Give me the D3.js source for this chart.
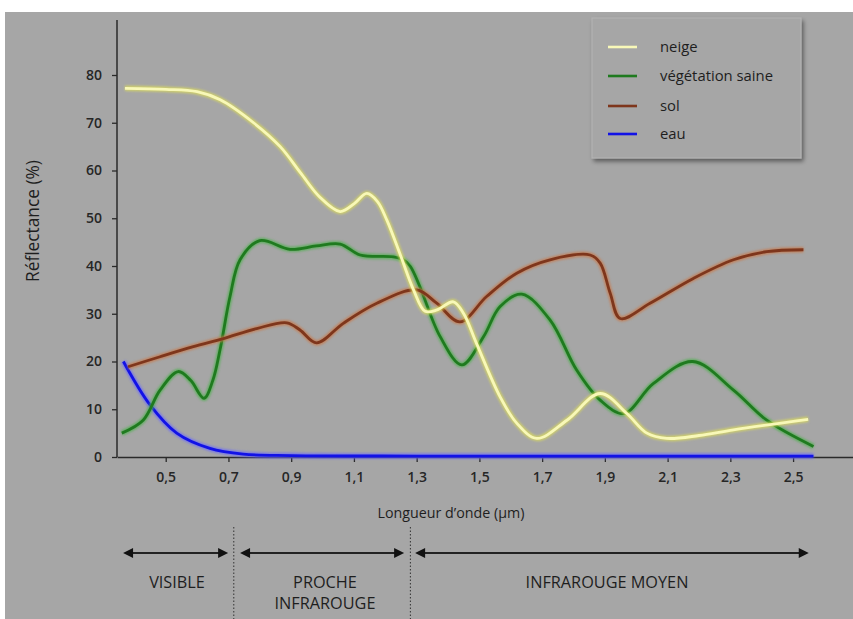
<!DOCTYPE html>
<html><head><meta charset="utf-8">
<script src="https://cdn.jsdelivr.net/npm/d3@7"></script>
<style>
html,body{margin:0;padding:0;background:#fff;}
svg{display:block;}
text{font-family:"Open Sans","Noto Sans",sans-serif;}
</style></head>
<body>
<svg id="chart" width="853" height="619"></svg>
<script>
// ---- data ----
const xTicks = [0.5,0.7,0.9,1.1,1.3,1.5,1.7,1.9,2.1,2.3,2.5];
const yTicks = [0,10,20,30,40,50,60,70,80];

const neigeX = [0.37,0.5,0.6,0.674,0.78,0.865,0.93,0.99,1.056,1.1,1.141,1.175,1.205,1.247,1.29,1.327,1.365,1.417,1.45,1.49,1.566,1.619,1.683,1.779,1.885,1.97,2.034,2.097,2.2,2.31,2.548];
const neigeY = [77.2,77.0,76.5,74.8,70,65,59.5,54.5,51.4,53,55.2,53.5,49.6,42.5,35,30.5,30.8,32.5,30,23.9,12.6,7.1,3.9,7.7,13.3,9.1,5,3.9,4.5,5.7,7.9];

const vegX = [0.36,0.428,0.482,0.54,0.58,0.622,0.65,0.673,0.705,0.737,0.8,0.896,0.98,1.056,1.12,1.226,1.257,1.28,1.31,1.375,1.444,1.513,1.566,1.635,1.725,1.81,1.885,1.96,2.055,2.18,2.31,2.416,2.565];
const vegY = [5,7.7,14,17.9,16,12.3,16,22.4,33.6,41.3,45.3,43.5,44.2,44.6,42.3,41.9,41.3,39.9,35.7,25.2,19.3,25.2,31.5,34.1,28.7,18.2,11.9,9.1,15.4,20,14,7.7,2.2];

const solX = [0.38,0.482,0.588,0.684,0.79,0.886,0.928,0.981,1.066,1.173,1.3,1.364,1.438,1.523,1.619,1.725,1.853,1.885,1.917,1.949,2.044,2.182,2.31,2.416,2.533];
const solY = [18.9,21,23.1,24.8,26.9,28.1,26.6,23.9,28,32.2,35,32.2,28.3,33.6,38.5,41.3,42.3,40.6,34.3,29,32.2,37.4,41.3,43,43.4];

const eauX = [0.365,0.45,0.535,0.641,0.747,0.9,1.3,2.0,2.565];
const eauY = [20,10.9,5,1.8,0.6,0.3,0.2,0.2,0.2];

const seriesNames = ["neige","végétation saine","sol","eau"];
const regionLabels = [["VISIBLE"],["PROCHE","INFRAROUGE"],["INFRAROUGE MOYEN"]];
const regionBounds = [[0.364,0.699],[0.737,1.26],[1.295,2.55]];
const regionSeparators = [0.717,1.28];

// ---- drawing ----
const svg = d3.select("#chart");
const colors = {
  "neige": {core:"#f8f8b8", glow:"#dcdc58"},
  "végétation saine": {core:"#1f7a1f", glow:"#4fb04f"},
  "sol": {core:"#7e361c", glow:"#c8784a"},
  "eau": {core:"#1212e6", glow:"#6a6aff"}
};
const defs = svg.append("defs");
defs.append("filter").attr("id","blur").attr("x","-10%").attr("y","-10%").attr("width","120%").attr("height","120%")
  .append("feGaussianBlur").attr("stdDeviation",1.3);
defs.append("filter").attr("id","tblur").append("feGaussianBlur").attr("stdDeviation",0.35);
const sh = defs.append("filter").attr("id","shadow").attr("x","-10%").attr("y","-10%").attr("width","130%").attr("height","130%");
sh.append("feDropShadow").attr("dx",2).attr("dy",3).attr("stdDeviation",2).attr("flood-color","#000").attr("flood-opacity",0.45);

// fit a text element to a target width by adjusting its font-size
function fitWidth(sel, w){
  sel.each(function(){
    const fs = parseFloat(this.getAttribute("font-size"));
    const cur = this.getComputedTextLength();
    if(cur>0) this.setAttribute("font-size", (fs*w/cur).toFixed(2));
  });
}

// background panel
svg.append("rect").attr("x",5).attr("y",12).attr("width",848).attr("height",607).attr("fill","#a6a6a6");

const x = d3.scaleLinear().domain([0.3447,2.691]).range([117,853]);
const y = d3.scaleLinear().domain([0,80]).range([457,75]);

// axes
const xAxis = d3.axisBottom(x).tickValues(xTicks).tickSize(5).tickSizeOuter(0)
  .tickFormat(d => d3.format(".1f")(d).replace(".",","));
const gx = svg.append("g").attr("transform","translate(0,457)").call(xAxis);
gx.select(".domain").attr("stroke","#2a2a2a").attr("stroke-width",1.5);
gx.selectAll(".tick line").attr("stroke","#2a2a2a").attr("stroke-width",1.3);
gx.selectAll(".tick text").attr("fill","#262626").attr("font-size",14).attr("font-weight",600).attr("font-family","'Open Sans'")
  .attr("y",12).attr("dy","0.9em");

const yAxis = d3.axisLeft(y).tickValues(yTicks).tickSize(5).tickSizeOuter(0);
const gy = svg.append("g").attr("transform","translate(117,0)").call(yAxis);
gy.select(".domain").remove();
gy.append("line").attr("x1",0).attr("x2",0).attr("y1",y(0)).attr("y2",20).attr("stroke","#2a2a2a").attr("stroke-width",1.5);
gy.selectAll(".tick line").attr("stroke","#2a2a2a").attr("stroke-width",1.3);
gy.selectAll(".tick text").attr("fill","#262626").attr("font-size",14).attr("font-weight",600).attr("x",-15);

// axis titles
const xt = svg.append("text").attr("x",451).attr("y",518).attr("text-anchor","middle").attr("font-size",14).attr("fill","#1e1e1e")
  .text("Longueur d’onde (µm)");
fitWidth(xt,147);
const yt = svg.append("text").attr("transform","translate(39,221) rotate(-90)").attr("text-anchor","middle").attr("font-size",14).attr("fill","#1e1e1e")
  .text("Réflectance (%)");
fitWidth(yt,122);

// lines
const line = d3.line().x(d=>x(d[0])).y(d=>y(d[1])).curve(d3.curveCatmullRom.alpha(0.5));
const series = [
  {name:"eau", xs:eauX, ys:eauY},
  {name:"végétation saine", xs:vegX, ys:vegY},
  {name:"sol", xs:solX, ys:solY},
  {name:"neige", xs:neigeX, ys:neigeY}
];
series.forEach(s=>{
  const pts = s.xs.map((v,i)=>[v,s.ys[i]]);
  svg.append("path").datum(pts).attr("d",line).attr("fill","none")
    .attr("stroke",colors[s.name].glow).attr("stroke-width",5.5).attr("stroke-opacity",0.75).attr("filter","url(#blur)");
  svg.append("path").datum(pts).attr("d",line).attr("fill","none")
    .attr("stroke",colors[s.name].core).attr("stroke-width",2.8).attr("stroke-linejoin","round");
});

// legend
const lg = svg.append("g");
lg.append("rect").attr("x",592).attr("y",18).attr("width",209).attr("height",140)
  .attr("fill","#a6a6a6").attr("stroke","#b4b4b4").attr("stroke-width",1).attr("filter","url(#shadow)");
const legendRows = [47,76,106,134];
const legendWidths = [37,113,22,26];
seriesNames.forEach((n,i)=>{
  lg.append("line").attr("x1",608).attr("x2",637).attr("y1",legendRows[i]).attr("y2",legendRows[i])
    .attr("stroke",colors[n].glow).attr("stroke-width",5).attr("stroke-opacity",0.7).attr("filter","url(#blur)");
  lg.append("line").attr("x1",608).attr("x2",637).attr("y1",legendRows[i]).attr("y2",legendRows[i])
    .attr("stroke",colors[n].core).attr("stroke-width",2.6);
  const t = lg.append("text").attr("x",660).attr("y",legendRows[i]).attr("dy","0.35em").attr("font-size",14).attr("fill","#1e1e1e").text(n);
  if(i===1) fitWidth(t,113);
});
const lfs = lg.selectAll("text").filter((d,i)=>i===1).attr("font-size");
lg.selectAll("text").attr("font-size",lfs);

// region arrows
const ay = 553;
const arrow = (x1,x2)=>{
  svg.append("line").attr("x1",x1+6).attr("x2",x2-6).attr("y1",ay).attr("y2",ay).attr("stroke","#222").attr("stroke-width",2);
  svg.append("path").attr("d",`M${x1},${ay} L${x1+10},${ay-5} L${x1+10},${ay+5} Z`).attr("fill","#111");
  svg.append("path").attr("d",`M${x2},${ay} L${x2-10},${ay-5} L${x2-10},${ay+5} Z`).attr("fill","#111");
};
regionBounds.forEach(b=>arrow(x(b[0]),x(b[1])));
regionSeparators.forEach(v=>{
  svg.append("line").attr("x1",x(v)).attr("x2",x(v)).attr("y1",527).attr("y2",619)
    .attr("stroke","#333").attr("stroke-width",1).attr("stroke-dasharray","1.5,2");
});
const labelCenters = [177,325,607];
const labelTop = [588,588,588];
const labelFirstWidth = [55,0,163];
let regionFs = null;
regionLabels.forEach((lines,i)=>{
  lines.forEach((t,j)=>{
    const el = svg.append("text").attr("class","rl").attr("x",labelCenters[i]).attr("y",labelTop[i]+j*21).attr("text-anchor","middle")
      .attr("font-size",15).attr("fill","#1e1e1e").text(t);
    if(i===2){ fitWidth(el,163); regionFs = el.attr("font-size"); }
  });
});
svg.selectAll("text.rl").attr("font-size",regionFs);
</script>
</body></html>
